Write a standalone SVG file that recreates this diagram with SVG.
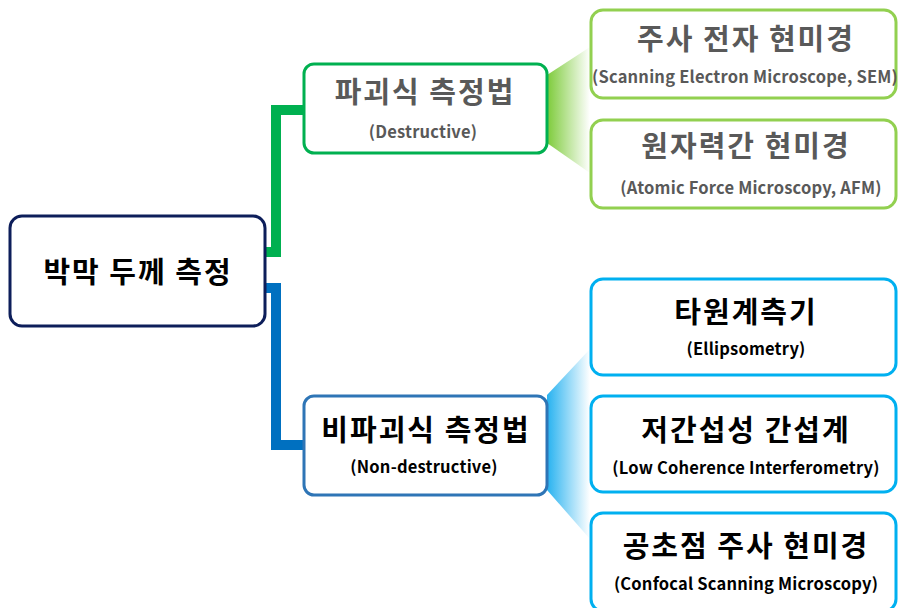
<svg xmlns="http://www.w3.org/2000/svg" width="898" height="608" viewBox="0 0 898 608">
<style>
.box{fill:#fff;stroke-width:3}
.t{font-family:"Noto Sans CJK KR","Noto Sans",sans-serif;font-weight:bold;text-anchor:middle}
.big{font-size:29px;letter-spacing:2px}
.sm{font-size:16.5px;letter-spacing:0.2px}
.gray{fill:#595959}
.blk{fill:#000}
</style>
<defs>
<linearGradient id="gg" x1="0" y1="0" x2="1" y2="0">
<stop offset="0" stop-color="#7dcb3a"/>
<stop offset="1" stop-color="#7dcb3a" stop-opacity="0"/>
</linearGradient>
<linearGradient id="bg" x1="0" y1="0" x2="1" y2="0">
<stop offset="0" stop-color="#27b2f0"/>
<stop offset="1" stop-color="#27b2f0" stop-opacity="0"/>
</linearGradient>
</defs>
<rect width="898" height="608" fill="#fff"/>
<g id="connectors">
<path d="M265 252 H276 V110 H304" fill="none" stroke="#00b050" stroke-width="10"/>
<path d="M265 288 H276 V445 H304" fill="none" stroke="#0070c0" stroke-width="10"/>
<polygon points="547,75 590,47 590,173 547,143" fill="url(#gg)"/>
<polygon points="547,395 590,349 590,539 547,490" fill="url(#bg)"/>
</g>
<g id="root">
<rect class="box" x="10" y="216" width="255" height="110" rx="12" stroke="#0d1e5a"/>
<text class="t big blk" x="138" y="283">박막 두께 측정</text>
</g>
<g id="destructive">
<rect class="box" x="304" y="64" width="243" height="89" rx="10" stroke="#00b050"/>
<text class="t big gray" x="425" y="103">파괴식 측정법</text>
<text class="t sm gray" x="423" y="138">(Destructive)</text>
</g>
<g id="nondestructive">
<rect class="box" x="304" y="396" width="243" height="99" rx="10" stroke="#2e75b6"/>
<text class="t big blk" x="426" y="441">비파괴식 측정법</text>
<text class="t sm blk" x="424" y="473">(Non-destructive)</text>
</g>
<g id="sem">
<rect class="box" x="591" y="10" width="305" height="88" rx="12" stroke="#92d050"/>
<text class="t big gray" x="746" y="50">주사 전자 현미경</text>
<text class="t sm gray" x="745" y="83">(Scanning Electron Microscope, SEM)</text>
</g>
<g id="afm">
<rect class="box" x="591" y="120" width="305" height="88" rx="12" stroke="#92d050"/>
<text class="t big gray" x="746" y="157">원자력간 현미경</text>
<text class="t sm gray" x="751" y="194">(Atomic Force Microscopy, AFM)</text>
</g>
<g id="ellipsometry">
<rect class="box" x="591" y="279" width="305" height="96" rx="12" stroke="#00b0f0"/>
<text class="t big blk" x="746" y="323">타원계측기</text>
<text class="t sm blk" x="746" y="355">(Ellipsometry)</text>
</g>
<g id="lci">
<rect class="box" x="591" y="396" width="305" height="96" rx="12" stroke="#00b0f0"/>
<text class="t big blk" x="746" y="441">저간섭성 간섭계</text>
<text class="t sm blk" x="746" y="474">(Low Coherence Interferometry)</text>
</g>
<g id="csm">
<rect class="box" x="591" y="513" width="305" height="98" rx="12" stroke="#00b0f0"/>
<text class="t big blk" x="746" y="557">공초점 주사 현미경</text>
<text class="t sm blk" x="746" y="590">(Confocal Scanning Microscopy)</text>
</g>
</svg>
